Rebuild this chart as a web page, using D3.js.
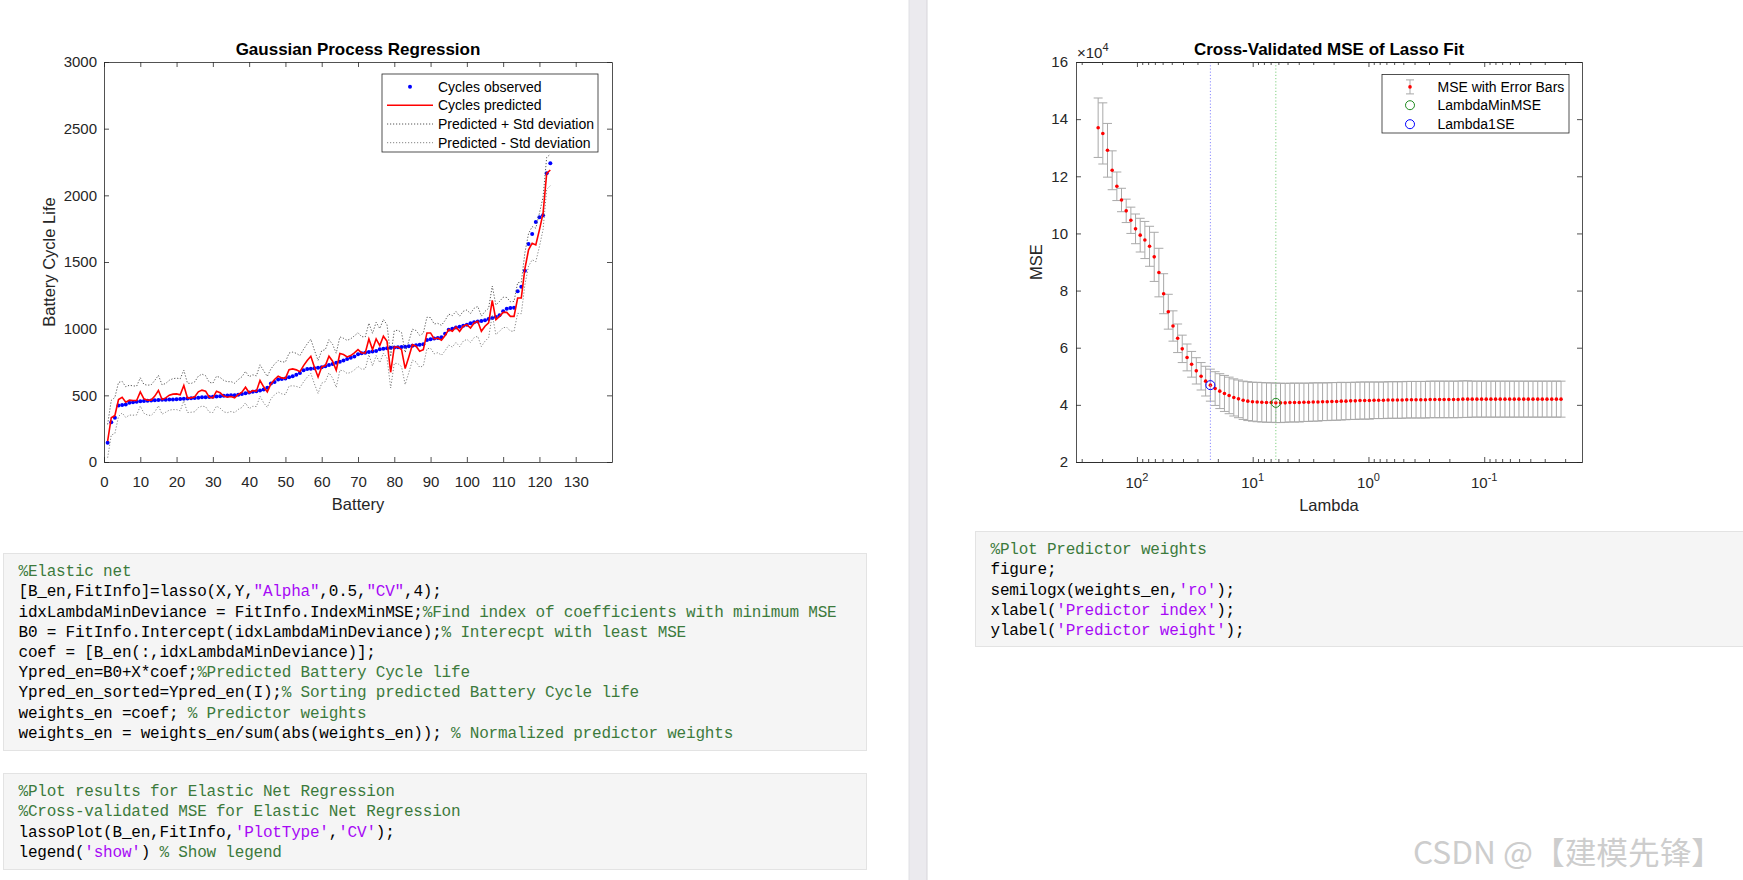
<!DOCTYPE html>
<html>
<head>
<meta charset="utf-8">
<script src="https://cdnjs.cloudflare.com/ajax/libs/d3/7.8.5/d3.min.js"></script>
<style>
body { margin: 0; background: #fff; }
svg { display: block; }
.code text { white-space: pre; }
</style>
</head>
<body>
<script>
var W = 1743, H = 880;

// ---- Gaussian Process Regression (battery index 1..123) ----
var cyclesObserved = [
  145, 299, 332, 424, 427, 432, 444, 448, 452, 455,
  457, 459, 462, 464, 465, 466, 467, 468, 469, 470,
  472, 474, 476, 478, 480, 482, 485, 486, 488, 490,
  492, 494, 496, 498, 500, 501, 505, 510, 516, 522,
  526, 530, 536, 544, 556, 589, 600, 619, 622, 626,
  636, 643, 655, 668, 688, 698, 700, 703, 706, 711,
  718, 728, 735, 745, 752, 762, 772, 782, 792, 808,
  815, 820, 825, 828, 832, 845, 850, 853, 856, 858,
  860, 862, 864, 868, 872, 876, 880, 884, 915, 920,
  926, 930, 936, 962, 992, 1000, 1008, 1015, 1022, 1030,
  1040, 1048, 1053, 1058, 1064, 1072, 1080, 1088, 1100, 1130,
  1150, 1155, 1157, 1280, 1315, 1435, 1635, 1710, 1800, 1835,
  1850, 2165, 2240];
var cyclesPredicted = [
  157, 332, 349, 469, 486, 449, 464, 461, 461, 526,
  474, 464, 464, 494, 536, 469, 481, 501, 509, 511,
  504, 574, 481, 481, 489, 526, 539, 531, 486, 481,
  531, 519, 494, 486, 491, 481, 506, 524, 561, 519,
  536, 531, 611, 564, 526, 586, 619, 643, 631, 628,
  693, 698, 691, 678, 723, 761, 793, 711, 638, 713,
  723, 793, 756, 688, 813, 806, 788, 798, 818, 843,
  818, 818, 923, 843, 923, 873, 943, 905, 673, 863,
  863, 843, 701, 788, 880, 868, 830, 843, 968, 968,
  923, 930, 913, 948, 993, 980, 1013, 980, 1018, 1030,
  1005, 1043, 1055, 980, 1018, 1043, 1212, 1067, 1092, 1122,
  1122, 1092, 1092, 1230, 1230, 1450, 1591, 1641, 1628, 1741,
  1865, 2165, 2190];
var cyclesStd = [
  125, 130, 135, 128, 118, 115, 112, 110, 108, 106,
  108, 112, 115, 118, 114, 110, 108, 112, 116, 118,
  120, 115, 110, 108, 112, 118, 120, 116, 112, 110,
  112, 115, 118, 116, 112, 110, 112, 115, 118, 120,
  118, 115, 118, 120, 116, 112, 115, 118, 120, 122,
  124, 126, 124, 120, 122, 125, 128, 126, 124, 122,
  120, 124, 126, 128, 125, 122, 124, 126, 128, 126,
  122, 120, 118, 122, 125, 128, 126, 124, 118, 122,
  125, 128, 120, 118, 116, 118, 120, 122, 118, 115,
  112, 110, 112, 114, 116, 118, 116, 114, 112, 110,
  108, 110, 112, 114, 112, 110, 108, 110, 112, 114,
  112, 110, 112, 115, 118, 120, 122, 124, 126, 125,
  122, 120, 118];
var gprXTicks = [0, 10, 20, 30, 40, 50, 60, 70, 80, 90, 100, 110, 120, 130];
var gprYTicks = [0, 500, 1000, 1500, 2000, 2500, 3000];
var gprLegend = ["Cycles observed", "Cycles predicted", "Predicted + Std deviation", "Predicted - Std deviation"];

// ---- Cross-validated MSE of lasso fit (MSE in units of 1e4) ----
var lambdaVals = [
  216.3, 197.1, 179.6, 163.6, 149.1, 135.9, 123.8, 112.8, 102.8, 93.7,
  85.4, 77.8, 70.9, 64.6, 58.8, 53.6, 48.8, 44.5, 40.6, 36.9,
  33.7, 30.7, 27.9, 25.5, 23.2, 21.1, 19.25, 17.54, 15.98, 14.56,
  13.27, 12.09, 11.02, 10.04, 9.15, 8.34, 7.60, 6.92, 6.31, 5.75,
  5.24, 4.77, 4.35, 3.96, 3.61, 3.29, 3.00, 2.73, 2.49, 2.27,
  2.07, 1.884, 1.717, 1.564, 1.425, 1.299, 1.183, 1.078, 0.982, 0.895,
  0.816, 0.743, 0.677, 0.617, 0.562, 0.512, 0.467, 0.425, 0.388, 0.353,
  0.322, 0.293, 0.267, 0.243, 0.222, 0.202, 0.184, 0.168, 0.153, 0.139,
  0.127, 0.1157, 0.1054, 0.0961, 0.0875, 0.0798, 0.0727, 0.0662, 0.0603, 0.0550,
  0.0501, 0.0456, 0.0416, 0.0379, 0.0345, 0.0315, 0.0287, 0.0261, 0.0238, 0.0217];
var mseVals = [
  13.70, 13.50, 12.91, 12.21, 11.65, 11.17, 10.79, 10.46, 10.16, 9.94,
  9.77, 9.55, 9.18, 8.63, 7.89, 7.26, 6.76, 6.33, 5.96, 5.66,
  5.42, 5.19, 5.00, 4.83, 4.69, 4.57, 4.48, 4.40, 4.33, 4.26,
  4.21, 4.16, 4.13, 4.11, 4.10, 4.09, 4.08, 4.08, 4.07, 4.07,
  4.07, 4.08, 4.08, 4.08, 4.09, 4.09, 4.10, 4.10, 4.11, 4.11,
  4.12, 4.12, 4.13, 4.13, 4.14, 4.14, 4.15, 4.15, 4.15, 4.16,
  4.16, 4.16, 4.17, 4.17, 4.17, 4.17, 4.18, 4.18, 4.18, 4.18,
  4.18, 4.19, 4.19, 4.19, 4.19, 4.19, 4.19, 4.19, 4.20, 4.20,
  4.20, 4.20, 4.20, 4.20, 4.20, 4.20, 4.20, 4.20, 4.20, 4.20,
  4.20, 4.20, 4.20, 4.20, 4.20, 4.20, 4.20, 4.20, 4.20, 4.20];
var seVals = [
  1.04, 1.07, 0.94, 0.68, 0.50, 0.41, 0.41, 0.46, 0.52, 0.59,
  0.65, 0.70, 0.86, 0.85, 0.70, 0.61, 0.53, 0.50, 0.48, 0.47,
  0.45, 0.46, 0.48, 0.52, 0.56, 0.59, 0.61, 0.63, 0.64, 0.65,
  0.66, 0.67, 0.68, 0.68, 0.69, 0.69, 0.69, 0.69, 0.69, 0.69,
  0.68, 0.68, 0.68, 0.68, 0.67, 0.67, 0.67, 0.67, 0.66, 0.66,
  0.66, 0.66, 0.66, 0.65, 0.65, 0.65, 0.65, 0.65, 0.65, 0.64,
  0.64, 0.64, 0.64, 0.64, 0.64, 0.64, 0.64, 0.64, 0.64, 0.64,
  0.64, 0.64, 0.64, 0.64, 0.64, 0.64, 0.64, 0.64, 0.64, 0.64,
  0.63, 0.63, 0.63, 0.63, 0.63, 0.63, 0.63, 0.63, 0.63, 0.63,
  0.63, 0.63, 0.63, 0.63, 0.63, 0.63, 0.63, 0.63, 0.63, 0.63];
var idxMinMSE = 38;
var idx1SE = 24;
var cvYTicks = [2, 4, 6, 8, 10, 12, 14, 16];
var cvXTicks = [100, 10, 1, 0.1];
var cvXTickExp = ["2", "1", "0", "-1"];
var cvLegend = ["MSE with Error Bars", "LambdaMinMSE", "Lambda1SE"];

// ---- code cells shown under the plots: [text, kind] ----
var codeCell1 = [
  [["%Elastic net", "c"]],
  [["[B_en,FitInfo]=lasso(X,Y,", "k"], ["\"Alpha\"", "s"], [",0.5,", "k"], ["\"CV\"", "s"], [",4);", "k"]],
  [["idxLambdaMinDeviance = FitInfo.IndexMinMSE;", "k"], ["%Find index of coefficients with minimum MSE", "c"]],
  [["B0 = FitInfo.Intercept(idxLambdaMinDeviance);", "k"], ["% Interecpt with least MSE", "c"]],
  [["coef = [B_en(:,idxLambdaMinDeviance)];", "k"]],
  [["Ypred_en=B0+X*coef;", "k"], ["%Predicted Battery Cycle life", "c"]],
  [["Ypred_en_sorted=Ypred_en(I);", "k"], ["% Sorting predicted Battery Cycle life", "c"]],
  [["weights_en =coef; ", "k"], ["% Predictor weights", "c"]],
  [["weights_en = weights_en/sum(abs(weights_en)); ", "k"], ["% Normalized predictor weights", "c"]]
];
var codeCell2 = [
  [["%Plot results for Elastic Net Regression", "c"]],
  [["%Cross-validated MSE for Elastic Net Regression", "c"]],
  [["lassoPlot(B_en,FitInfo,", "k"], ["'PlotType'", "s"], [",", "k"], ["'CV'", "s"], [");", "k"]],
  [["legend(", "k"], ["'show'", "s"], [") ", "k"], ["% Show legend", "c"]]
];
var codeCell3 = [
  [["%Plot Predictor weights", "c"]],
  [["figure;", "k"]],
  [["semilogx(weights_en,", "k"], ["'ro'", "s"], [");", "k"]],
  [["xlabel(", "k"], ["'Predictor index'", "s"], [");", "k"]],
  [["ylabel(", "k"], ["'Predictor weight'", "s"], [");", "k"]]
];

var font = "'Liberation Sans', Arial, Helvetica, sans-serif";
var mono = "'Liberation Mono', 'DejaVu Sans Mono', monospace";
var axisColor = "#262626";
var codeColor = {k: "#000000", c: "#3c7a3c", s: "#a709f5"};

var svg = d3.select("body").append("svg")
  .attr("width", W)
  .attr("height", H);

svg.append("rect").attr("width", W).attr("height", H).attr("fill", "#fff");

// pane divider
svg.append("rect").attr("x", 909).attr("y", 0).attr("width", 18).attr("height", H)
  .attr("fill", "#ebeaee");
svg.append("line").attr("x1", 927).attr("x2", 927).attr("y1", 0).attr("y2", H)
  .attr("stroke", "#d6d5da");
svg.append("line").attr("x1", 909).attr("x2", 909).attr("y1", 0).attr("y2", H)
  .attr("stroke", "#e0e0e4");

function styleAxis(g, size) {
  g.attr("font-family", font).attr("font-size", size);
  g.selectAll(".domain").attr("stroke", axisColor).attr("stroke-width", 0.8);
  g.selectAll(".tick line").attr("stroke", axisColor).attr("stroke-width", 0.8);
  g.selectAll(".tick text").attr("fill", axisColor);
}

// ===================== left: GPR =====================
var xL = d3.scaleLinear().domain([0, 140]).range([104, 612]);
var yL = d3.scaleLinear().domain([0, 3000]).range([462, 62]);
var gL = svg.append("g");

gL.append("rect").attr("x", 104).attr("y", 62).attr("width", 508).attr("height", 400).attr("fill", "#fff");

var upper = cyclesPredicted.map(function(d, i) { return d + cyclesStd[i]; });
var lower = cyclesPredicted.map(function(d, i) { return d - cyclesStd[i]; });

var line = d3.line()
  .x(function(d, i) { return xL(i + 1); })
  .y(function(d) { return yL(d); });

gL.selectAll("circle.obs")
  .data(cyclesObserved)
  .enter()
  .append("circle")
  .attr("class", "obs")
  .attr("cx", function(d, i) { return xL(i + 1); })
  .attr("cy", function(d) { return yL(d); })
  .attr("r", 2)
  .attr("fill", "#0000ff");

gL.append("path").attr("d", line(cyclesPredicted))
  .attr("fill", "none").attr("stroke", "#ff0000").attr("stroke-width", 1.6);
gL.append("path").attr("d", line(upper))
  .attr("fill", "none").attr("stroke", "#444").attr("stroke-width", 0.9).attr("stroke-dasharray", "1.2,1.8");
gL.append("path").attr("d", line(lower))
  .attr("fill", "none").attr("stroke", "#777").attr("stroke-width", 0.9).attr("stroke-dasharray", "1.2,1.8");

styleAxis(gL.append("g").attr("transform", "translate(0,462)")
  .call(d3.axisBottom(xL).tickValues(gprXTicks).tickSize(-5).tickSizeOuter(0).tickPadding(14)), 15);
styleAxis(gL.append("g").attr("transform", "translate(0,62)")
  .call(d3.axisTop(xL).tickValues(gprXTicks).tickSize(-5).tickSizeOuter(0).tickFormat("")), 15);
styleAxis(gL.append("g").attr("transform", "translate(104,0)")
  .call(d3.axisLeft(yL).tickValues(gprYTicks).tickFormat(d3.format("d"))
    .tickSize(-5).tickSizeOuter(0).tickPadding(7)), 15);
styleAxis(gL.append("g").attr("transform", "translate(612,0)")
  .call(d3.axisRight(yL).tickValues(gprYTicks).tickSize(-5).tickSizeOuter(0).tickFormat("")), 15);

gL.append("text").attr("x", 358).attr("y", 55).attr("text-anchor", "middle")
  .attr("font-family", font).attr("font-size", 17).attr("font-weight", "bold").attr("fill", "#000")
  .text("Gaussian Process Regression");
gL.append("text").attr("x", 358).attr("y", 510).attr("text-anchor", "middle")
  .attr("font-family", font).attr("font-size", 16.5).attr("fill", axisColor)
  .text("Battery");
gL.append("text").attr("transform", "translate(55,262) rotate(-90)").attr("text-anchor", "middle")
  .attr("font-family", font).attr("font-size", 16.5).attr("fill", axisColor)
  .text("Battery Cycle Life");

// legend
var lgL = gL.append("g");
lgL.append("rect").attr("x", 382).attr("y", 74).attr("width", 216).attr("height", 78)
  .attr("fill", "#fff").attr("stroke", axisColor).attr("stroke-width", 0.8);
var lgLy = [86.7, 105.3, 124, 142.7];
lgL.append("circle").attr("cx", 410).attr("cy", lgLy[0]).attr("r", 2).attr("fill", "#0000ff");
lgL.append("line").attr("x1", 387).attr("x2", 433).attr("y1", lgLy[1]).attr("y2", lgLy[1])
  .attr("stroke", "#ff0000").attr("stroke-width", 1.6);
lgL.append("line").attr("x1", 387).attr("x2", 433).attr("y1", lgLy[2]).attr("y2", lgLy[2])
  .attr("stroke", "#444").attr("stroke-width", 0.9).attr("stroke-dasharray", "1.2,1.8");
lgL.append("line").attr("x1", 387).attr("x2", 433).attr("y1", lgLy[3]).attr("y2", lgLy[3])
  .attr("stroke", "#777").attr("stroke-width", 0.9).attr("stroke-dasharray", "1.2,1.8");
lgL.selectAll("text").data(gprLegend).enter().append("text")
  .attr("x", 438).attr("y", function(d, i) { return lgLy[i] + 5; })
  .attr("font-family", font).attr("font-size", 14).attr("fill", "#000")
  .text(function(d) { return d; });

// ===================== right: CV MSE =====================
var xR = d3.scaleLog().domain([336, 0.0143]).range([1076, 1582]);
var yR = d3.scaleLinear().domain([2, 16]).range([462, 62]);
var gR = svg.append("g");

gR.append("rect").attr("x", 1076).attr("y", 62).attr("width", 506).attr("height", 400).attr("fill", "#fff");

// error bars
var eb = gR.selectAll("g.eb")
  .data(mseVals)
  .enter()
  .append("g")
  .attr("class", "eb")
  .attr("stroke", "#a9a9a9")
  .attr("stroke-width", 1);
eb.append("line")
  .attr("x1", function(d, i) { return xR(lambdaVals[i]); })
  .attr("x2", function(d, i) { return xR(lambdaVals[i]); })
  .attr("y1", function(d, i) { return yR(d + seVals[i]); })
  .attr("y2", function(d, i) { return yR(d - seVals[i]); });
eb.append("line")
  .attr("x1", function(d, i) { return xR(lambdaVals[i]) - 4.5; })
  .attr("x2", function(d, i) { return xR(lambdaVals[i]) + 4.5; })
  .attr("y1", function(d, i) { return yR(d + seVals[i]); })
  .attr("y2", function(d, i) { return yR(d + seVals[i]); });
eb.append("line")
  .attr("x1", function(d, i) { return xR(lambdaVals[i]) - 4.5; })
  .attr("x2", function(d, i) { return xR(lambdaVals[i]) + 4.5; })
  .attr("y1", function(d, i) { return yR(d - seVals[i]); })
  .attr("y2", function(d, i) { return yR(d - seVals[i]); });

gR.selectAll("circle.mse")
  .data(mseVals)
  .enter()
  .append("circle")
  .attr("class", "mse")
  .attr("cx", function(d, i) { return xR(lambdaVals[i]); })
  .attr("cy", function(d) { return yR(d); })
  .attr("r", 1.8)
  .attr("fill", "#ff0000");

// reference lines + markers
gR.append("line").attr("x1", xR(lambdaVals[idx1SE])).attr("x2", xR(lambdaVals[idx1SE]))
  .attr("y1", 62).attr("y2", 462).attr("stroke", "#8a8aff").attr("stroke-width", 1).attr("stroke-dasharray", "1.2,2");
gR.append("line").attr("x1", xR(lambdaVals[idxMinMSE])).attr("x2", xR(lambdaVals[idxMinMSE]))
  .attr("y1", 62).attr("y2", 462).attr("stroke", "#7fd07f").attr("stroke-width", 1).attr("stroke-dasharray", "1.2,2");
gR.append("circle").attr("cx", xR(lambdaVals[idxMinMSE])).attr("cy", yR(mseVals[idxMinMSE])).attr("r", 4.5)
  .attr("fill", "none").attr("stroke", "#1e8a1e").attr("stroke-width", 1);
gR.append("circle").attr("cx", xR(lambdaVals[idx1SE])).attr("cy", yR(mseVals[idx1SE])).attr("r", 4.5)
  .attr("fill", "none").attr("stroke", "#0000ff").attr("stroke-width", 1);

var allLogTicks = xR.ticks();
var minorTicks = allLogTicks.filter(function(v) { return cvXTicks.indexOf(v) < 0; });

styleAxis(gR.append("g").attr("transform", "translate(0,462)")
  .call(d3.axisBottom(xR).tickValues(cvXTicks).tickSize(-5).tickSizeOuter(0).tickFormat("")), 15);
styleAxis(gR.append("g").attr("transform", "translate(0,462)")
  .call(d3.axisBottom(xR).tickValues(minorTicks).tickSize(-3).tickSizeOuter(0).tickFormat("")), 15);
styleAxis(gR.append("g").attr("transform", "translate(0,62)")
  .call(d3.axisTop(xR).tickValues(cvXTicks).tickSize(-5).tickSizeOuter(0).tickFormat("")), 15);
styleAxis(gR.append("g").attr("transform", "translate(0,62)")
  .call(d3.axisTop(xR).tickValues(minorTicks).tickSize(-3).tickSizeOuter(0).tickFormat("")), 15);
styleAxis(gR.append("g").attr("transform", "translate(1076,0)")
  .call(d3.axisLeft(yR).tickValues(cvYTicks).tickSize(-5).tickSizeOuter(0).tickPadding(8)), 15);
styleAxis(gR.append("g").attr("transform", "translate(1582,0)")
  .call(d3.axisRight(yR).tickValues(cvYTicks).tickSize(-5).tickSizeOuter(0).tickFormat("")), 15);

// log tick labels 10^n
var xl = gR.selectAll("text.xlab").data(cvXTicks).enter().append("text")
  .attr("class", "xlab")
  .attr("x", function(d) { return xR(d); })
  .attr("y", 488)
  .attr("text-anchor", "middle")
  .attr("font-family", font).attr("font-size", 15).attr("fill", axisColor);
xl.append("tspan").text("10");
xl.append("tspan").attr("dy", -7).attr("font-size", 11).text(function(d, i) { return cvXTickExp[i]; });

var ex = gR.append("text").attr("x", 1077).attr("y", 58)
  .attr("font-family", font).attr("font-size", 15).attr("fill", axisColor);
ex.append("tspan").text("\u00d710");
ex.append("tspan").attr("dy", -7).attr("font-size", 11).text("4");

gR.append("text").attr("x", 1329).attr("y", 55).attr("text-anchor", "middle")
  .attr("font-family", font).attr("font-size", 17).attr("font-weight", "bold").attr("fill", "#000")
  .text("Cross-Validated MSE of Lasso Fit");
gR.append("text").attr("x", 1329).attr("y", 511).attr("text-anchor", "middle")
  .attr("font-family", font).attr("font-size", 16.5).attr("fill", axisColor)
  .text("Lambda");
gR.append("text").attr("transform", "translate(1042,262) rotate(-90)").attr("text-anchor", "middle")
  .attr("font-family", font).attr("font-size", 16.5).attr("fill", axisColor)
  .text("MSE");

// legend
var lgR = gR.append("g");
lgR.append("rect").attr("x", 1382).attr("y", 74.5).attr("width", 187).attr("height", 58.5)
  .attr("fill", "#fff").attr("stroke", axisColor).attr("stroke-width", 0.8);
var lgRy = [86.9, 105.2, 124.2];
lgR.append("line").attr("x1", 1410).attr("x2", 1410).attr("y1", lgRy[0] - 7).attr("y2", lgRy[0] + 7)
  .attr("stroke", "#a9a9a9");
lgR.append("line").attr("x1", 1406).attr("x2", 1414).attr("y1", lgRy[0] - 7).attr("y2", lgRy[0] - 7)
  .attr("stroke", "#a9a9a9");
lgR.append("line").attr("x1", 1406).attr("x2", 1414).attr("y1", lgRy[0] + 7).attr("y2", lgRy[0] + 7)
  .attr("stroke", "#a9a9a9");
lgR.append("circle").attr("cx", 1410).attr("cy", lgRy[0]).attr("r", 1.8).attr("fill", "#ff0000");
lgR.append("circle").attr("cx", 1410).attr("cy", lgRy[1]).attr("r", 4.5)
  .attr("fill", "none").attr("stroke", "#1e8a1e");
lgR.append("circle").attr("cx", 1410).attr("cy", lgRy[2]).attr("r", 4.5)
  .attr("fill", "none").attr("stroke", "#0000ff");
lgR.selectAll("text").data(cvLegend).enter().append("text")
  .attr("x", 1437.5).attr("y", function(d, i) { return lgRy[i] + 5; })
  .attr("font-family", font).attr("font-size", 14).attr("fill", "#000")
  .text(function(d) { return d; });

// ===================== code cells =====================
function codeCell(x, y, w, h, lines) {
  var g = svg.append("g").attr("class", "code");
  g.append("rect").attr("x", x + 0.5).attr("y", y + 0.5).attr("width", w).attr("height", h)
    .attr("fill", "#f5f5f5").attr("stroke", "#e3e3e3");
  lines.forEach(function(segs, li) {
    var t = g.append("text")
      .attr("x", x + 15.5)
      .attr("y", y + 17.7 + li * 20.2 + 5.5)
      .attr("font-family", mono)
      .attr("font-size", 16)
      .attr("letter-spacing", -0.2);
    segs.forEach(function(s) {
      t.append("tspan").attr("fill", codeColor[s[1]]).text(s[0]);
    });
  });
}
codeCell(3, 553, 863, 197, codeCell1);
codeCell(3, 773, 863, 96, codeCell2);
codeCell(975, 531, 790, 115, codeCell3);

// watermark
svg.append("text").attr("x", 1413).attr("y", 864)
  .attr("font-family", "'Noto Sans CJK SC', 'Noto Sans', sans-serif")
  .attr("font-size", 31)
  .attr("fill", "#cdcdcd")
  .attr("textLength", 310)
  .attr("lengthAdjust", "spacingAndGlyphs")
  .text("CSDN @\u3010\u5efa\u6a21\u5148\u950b\u3011");
</script>
</body>
</html>
